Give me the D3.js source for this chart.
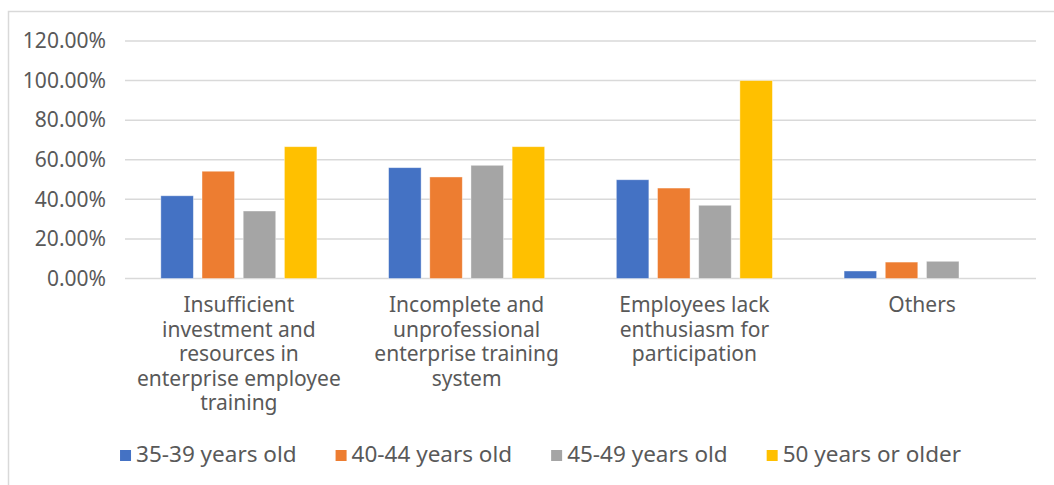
<!DOCTYPE html>
<html lang="en">
<head>
  <meta charset="UTF-8">
  <title>Training problems by age</title>
  <script src="https://cdn.jsdelivr.net/npm/d3@7"></script>
  <style>
    body { margin: 0; background: #fff; }
    text { font-family: "Noto Sans", "Liberation Sans", sans-serif; fill: #595959; }
  </style>
</head>
<body>
  <div id="chart"></div>

  <script>
    const categories = [
      "Insufficient investment and resources in enterprise employee training",
      "Incomplete and unprofessional enterprise training system",
      "Employees lack enthusiasm for participation",
      "Others"
    ];
    // how the category labels wrap under the axis
    const categoryLines = [
      ["Insufficient", "investment and", "resources in", "enterprise employee", "training"],
      ["Incomplete and", "unprofessional", "enterprise training", "system"],
      ["Employees lack", "enthusiasm for", "participation"],
      ["Others"]
    ];
    const series = ["35-39 years old", "40-44 years old", "45-49 years old", "50 years or older"];
    const age3539 = [0.418, 0.560, 0.499, 0.038];
    const age4044 = [0.542, 0.513, 0.457, 0.083];
    const age4549 = [0.341, 0.572, 0.370, 0.087];
    const age50up = [0.666, 0.666, 1.000, 0];
    const yTicks = [0, 0.2, 0.4, 0.6, 0.8, 1.0, 1.2];
    const colors = ["#4472C4", "#ED7D31", "#A5A5A5", "#FFC000"];

    const values = [age3539, age4044, age4549, age50up];

    const width = 1054, height = 485;
    const plotLeft = 125, plotRight = 1036, plotTop = 41, plotBottom = 278.5;

    const svg = d3.select('#chart')
      .append('svg')
        .attr('width', width)
        .attr('height', height);

    // outer frame (right and bottom edges fall outside the picture)
    svg.append('rect')
      .attr('x', 8.5).attr('y', 11.5)
      .attr('width', width + 20).attr('height', height + 20)
      .attr('fill', 'none')
      .attr('stroke', '#d9d9d9')
      .attr('stroke-width', 1.5);

    const x = d3.scaleBand()
      .domain(categories)
      .range([plotLeft, plotRight]);

    const xInner = d3.scaleBand()
      .domain(series)
      .range([0, x.bandwidth()])
      .paddingInner(0.21)
      .paddingOuter(0.87);

    const y = d3.scaleLinear()
      .domain([0, 1.2])
      .range([plotBottom, plotTop]);

    // gridlines
    svg.append('g')
      .selectAll('line')
      .data(yTicks)
      .join('line')
        .attr('x1', plotLeft).attr('x2', plotRight)
        .attr('y1', d => y(d)).attr('y2', d => y(d))
        .attr('stroke', '#d9d9d9')
        .attr('stroke-width', 1.5);

    // y axis labels
    const yAxis = svg.append('g')
      .attr('transform', `translate(${plotLeft},0)`)
      .call(d3.axisLeft(y).tickValues(yTicks).tickFormat(d3.format('.2%')).tickSize(0).tickPadding(19));
    yAxis.select('.domain').remove();
    yAxis.selectAll('text')
      .attr('font-size', 21)
      .attr('fill', '#595959')
      .style('font-family', '"Noto Sans", sans-serif');

    // bars
    svg.append('g')
      .selectAll('g')
      .data(series)
      .join('g')
        .attr('fill', (d, i) => colors[i])
      .selectAll('rect')
      .data((s, i) => categories.map((c, j) => ({ c, s, v: values[i][j] })))
      .join('rect')
        .attr('x', d => x(d.c) + xInner(d.s))
        .attr('width', xInner.bandwidth())
        .attr('y', d => y(d.v))
        .attr('height', d => y(0) - y(d.v))
        .attr('stroke', '#fff')
        .attr('stroke-opacity', 0.5)
        .attr('stroke-width', 0.8);

    // category labels
    svg.append('g')
      .selectAll('text')
      .data(categories)
      .join('text')
        .attr('text-anchor', 'middle')
        .attr('font-size', 21)
        .attr('y', 312)
        .each(function(d, i) {
          const cx = x(d) + x.bandwidth() / 2;
          d3.select(this).selectAll('tspan')
            .data(categoryLines[i])
            .join('tspan')
              .attr('x', cx)
              .attr('dy', (t, k) => k === 0 ? 0 : 24.5)
              .text(t => t);
        });

    // legend
    const legend = svg.append('g');
    const items = legend.selectAll('g')
      .data(series)
      .join('g');
    items.append('rect')
      .attr('width', 11).attr('height', 11)
      .attr('y', 450)
      .attr('fill', (d, i) => colors[i]);
    items.append('text')
      .attr('x', 16)
      .attr('y', 462)
      .attr('font-size', 22.5)
      .text(d => d);

    let pos = 0;
    const offsets = [];
    items.each(function() {
      offsets.push(pos);
      pos += 16 + this.querySelector('text').getComputedTextLength() + 39;
    });
    const total = pos - 39;
    const start = 540.5 - total / 2;
    items.attr('transform', (d, i) => `translate(${start + offsets[i]},0)`);
  </script>
</body>
</html>
